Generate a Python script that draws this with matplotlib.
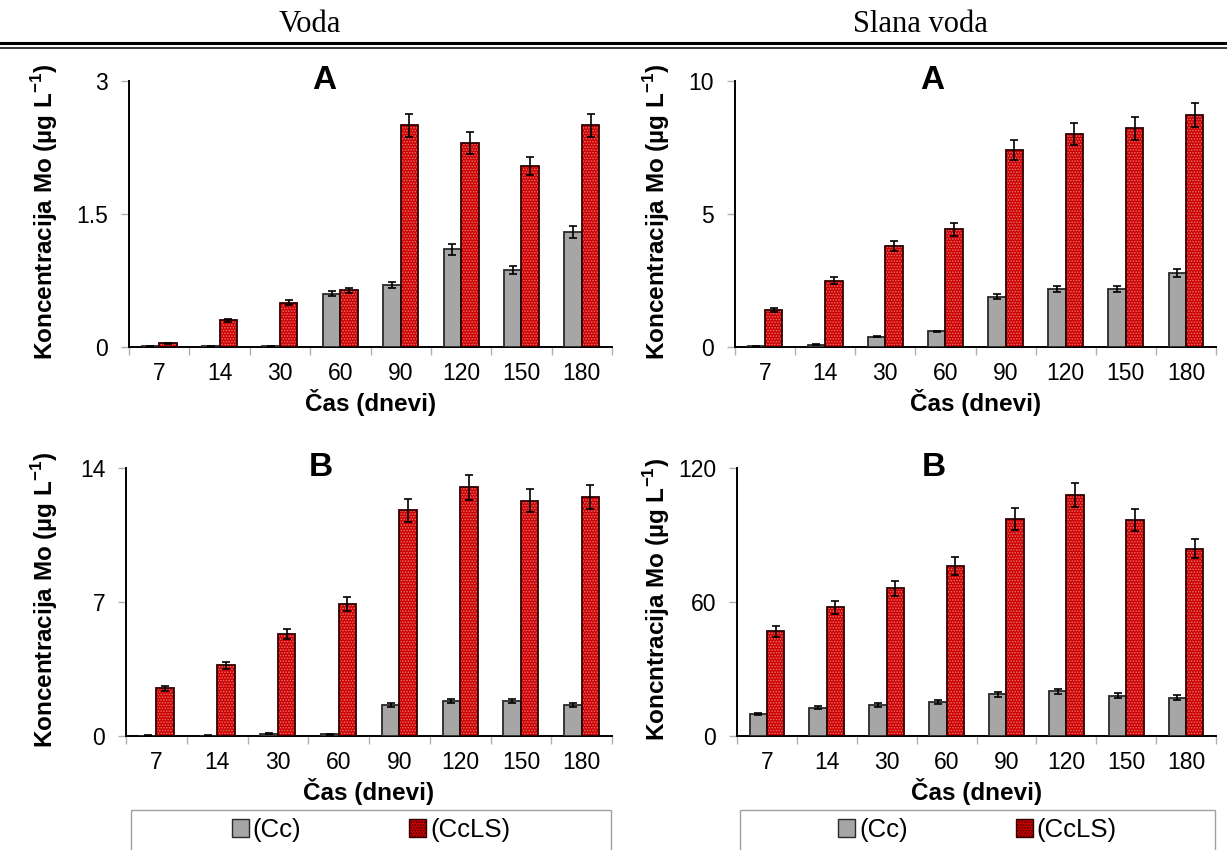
import matplotlib
matplotlib.use("Agg")
import matplotlib.pyplot as plt
from matplotlib.patches import Rectangle, Patch
from matplotlib.lines import Line2D
import numpy as np

# ---- data -------------------------------------------------------------
days = ["7", "14", "30", "60", "90", "120", "150", "180"]

# Voda, A
voda_a_cc = [0.01, 0.01, 0.01, 0.60, 0.70, 1.10, 0.87, 1.30]
voda_a_cc_err = [0.005, 0.005, 0.005, 0.03, 0.035, 0.06, 0.045, 0.07]
voda_a_ccls = [0.04, 0.30, 0.50, 0.64, 2.50, 2.30, 2.04, 2.50]
voda_a_ccls_err = [0.01, 0.017, 0.028, 0.03, 0.126, 0.12, 0.105, 0.126]

# Slana voda, A
slana_a_cc = [0.02, 0.09, 0.39, 0.59, 1.89, 2.19, 2.19, 2.79]
slana_a_cc_err = [0.01, 0.01, 0.02, 0.03, 0.10, 0.12, 0.12, 0.16]
slana_a_ccls = [1.39, 2.49, 3.80, 4.42, 7.41, 8.01, 8.22, 8.71]
slana_a_ccls_err = [0.07, 0.13, 0.20, 0.23, 0.38, 0.40, 0.42, 0.45]

# Voda, B
voda_b_cc = [0.02, 0.02, 0.12, 0.09, 1.60, 1.83, 1.83, 1.60]
voda_b_cc_err = [0.01, 0.01, 0.02, 0.02, 0.10, 0.12, 0.12, 0.10]
voda_b_ccls = [2.49, 3.69, 5.33, 6.88, 11.79, 13.00, 12.30, 12.49]
voda_b_ccls_err = [0.13, 0.20, 0.27, 0.36, 0.59, 0.65, 0.60, 0.64]

# Slana voda, B
slana_b_cc = [10.0, 12.7, 13.9, 15.3, 18.6, 20.1, 18.1, 17.2]
slana_b_cc_err = [0.45, 0.75, 0.8, 0.9, 1.05, 1.1, 1.0, 1.0]
slana_b_ccls = [46.8, 57.6, 66.1, 76.2, 97.1, 108.0, 96.7, 83.9]
slana_b_ccls_err = [2.5, 3.0, 3.4, 3.9, 4.9, 5.5, 4.8, 4.3]

yticks_voda_a = [0, 1.5, 3]
yticklabels_voda_a = ["0", "1.5", "3"]
yticks_slana_a = [0, 5, 10]
yticklabels_slana_a = ["0", "5", "10"]
yticks_voda_b = [0, 7, 14]
yticklabels_voda_b = ["0", "7", "14"]
yticks_slana_b = [0, 60, 120]
yticklabels_slana_b = ["0", "60", "120"]

series_names = ["(Cc)", "(CcLS)"]
column_titles = ["Voda", "Slana voda"]
panel_letters = ["A", "A", "B", "B"]
ylabels = ["Koncentracija Mo (µg L$^{\\mathbf{-1}}$)",
           "Koncentracija Mo (µg L$^{\\mathbf{-1}}$)",
           "Koncentracija Mo (µg L$^{\\mathbf{-1}}$)",
           "Koncntracija Mo (µg L$^{\\mathbf{-1}}$)"]
xlabel = "Čas (dnevi)"

# ---- style ------------------------------------------------------------
plt.rcParams["font.family"] = ["Liberation Sans", "DejaVu Sans"]
plt.rcParams["mathtext.fontset"] = "custom"
plt.rcParams["mathtext.rm"] = "Liberation Sans"
plt.rcParams["mathtext.bf"] = "Liberation Sans:bold"
plt.rcParams["hatch.linewidth"] = 0.8

GRAY = "#a6a6a6"
RED = "#cc0000"
DOTS = (1, 0.75, 0.75, 0.55)
TICK_GRAY = "#b0b0b0"
FS_TICK = 16.5
FS_LABEL = 17.5
FS_LEGEND = 18.5

W, H = 1227, 850
fig = plt.figure(figsize=(W / 100, H / 100), dpi=100)


def px_axes(left, top, right, bottom):
    return fig.add_axes([left / W, 1 - bottom / H, (right - left) / W, (bottom - top) / H])


def draw_bars(ax, x, vals, width, face, dotted):
    if dotted:
        ax.bar(x, vals, width, color=face, edgecolor=DOTS,
               hatch="......", linewidth=0, zorder=2)
        ax.bar(x, vals, width, fill=False, edgecolor="#300000",
               linewidth=1.3, zorder=3)
    else:
        ax.bar(x, vals, width, color=face, edgecolor="#2a2a2a",
               linewidth=1.3, zorder=3)


def panel(ax, cc, cc_err, ccls, ccls_err, yticks, yticklabels, letter, letter_x):
    n = len(days)
    centers = np.arange(n) + 0.5
    bw = 0.29
    draw_bars(ax, centers - bw / 2, cc, bw, GRAY, False)
    draw_bars(ax, centers + bw / 2, ccls, bw, RED, True)
    ax.errorbar(centers - bw / 2, cc, yerr=cc_err, fmt="none", ecolor="black",
                elinewidth=1.2, capsize=2.8, capthick=1.2, zorder=4)
    ax.errorbar(centers + bw / 2, ccls, yerr=ccls_err, fmt="none", ecolor="black",
                elinewidth=1.2, capsize=2.8, capthick=1.2, zorder=4)

    ax.set_xlim(0, n)
    ax.set_ylim(yticks[0], yticks[-1])
    ax.set_yticks(yticks)
    ax.set_yticklabels(yticklabels)
    ax.set_xticks(np.arange(n + 1))
    ax.set_xticklabels([])
    ax.set_xticks(centers, minor=True)
    ax.set_xticklabels(days, minor=True)
    ax.tick_params(axis="x", which="major", direction="out", length=6,
                   color=TICK_GRAY, width=1)
    ax.tick_params(axis="x", which="minor", length=0, pad=11, labelsize=FS_TICK)
    ax.tick_params(axis="y", direction="out", length=6, color=TICK_GRAY,
                   width=1, pad=9, labelsize=FS_TICK)
    for s in ("top", "right"):
        ax.spines[s].set_visible(False)
    for s in ("left", "bottom"):
        ax.spines[s].set_color("black")
        ax.spines[s].set_linewidth(1.4)
    ax.set_xlabel(xlabel, fontsize=FS_LABEL, fontweight="bold", labelpad=3)
    ax.text(letter_x, 1.0, letter, transform=ax.transAxes, ha="center",
            va="center", fontsize=24, fontweight="bold")


ax_tl = px_axes(129, 81, 612, 347)
ax_tr = px_axes(735, 81, 1216, 347)
ax_bl = px_axes(126, 468, 612, 736)
ax_br = px_axes(737, 468, 1216, 736)

panel(ax_tl, voda_a_cc, voda_a_cc_err, voda_a_ccls, voda_a_ccls_err,
      yticks_voda_a, yticklabels_voda_a, panel_letters[0], 0.405)
panel(ax_tr, slana_a_cc, slana_a_cc_err, slana_a_ccls, slana_a_ccls_err,
      yticks_slana_a, yticklabels_slana_a, panel_letters[1], 0.41)
panel(ax_bl, voda_b_cc, voda_b_cc_err, voda_b_ccls, voda_b_ccls_err,
      yticks_voda_b, yticklabels_voda_b, panel_letters[2], 0.40)
panel(ax_br, slana_b_cc, slana_b_cc_err, slana_b_ccls, slana_b_ccls_err,
      yticks_slana_b, yticklabels_slana_b, panel_letters[3], 0.41)

# rotated y labels
for (xp, yp), lab in zip([(45, 212), (657, 212), (45, 600), (657, 600)], ylabels):
    fig.text(xp / W, 1 - yp / H, lab, rotation=90, ha="center", va="center",
             fontsize=FS_LABEL, fontweight="bold")

# column headings and double rule
fig.text(310 / W, 1 - 25 / H, column_titles[0], ha="center", va="center",
         fontsize=22, family="Liberation Serif")
fig.text(920 / W, 1 - 25 / H, column_titles[1], ha="center", va="center",
         fontsize=22, family="Liberation Serif")
fig.add_artist(Line2D([0, 1], [1 - 43 / H, 1 - 43 / H], transform=fig.transFigure,
                      color="black", linewidth=2.2))
fig.add_artist(Line2D([0, 1], [1 - 47.5 / H, 1 - 47.5 / H], transform=fig.transFigure,
                      color="black", linewidth=1.1))

# legend boxes below the bottom panels
handles = [Patch(facecolor=GRAY, edgecolor="#2a2a2a", linewidth=1.0),
           Patch(facecolor=RED, edgecolor="#300000", linewidth=1.0,
                 hatch="......")]
for left, right in [(131, 611), (740, 1215)]:
    fig.add_artist(Rectangle((left / W, 1 - 860 / H), (right - left) / W, 50 / H,
                             transform=fig.transFigure, fill=False,
                             edgecolor="#a0a0a0", linewidth=1.0))
    fig.legend(handles, series_names, loc="center",
               bbox_to_anchor=((left + right) / 2 / W, 1 - 830 / H),
               ncol=2, frameon=False, fontsize=FS_LEGEND, handlelength=0.66,
               handleheight=0.66, handletextpad=0.15, columnspacing=4.2,
               borderpad=0)

fig.savefig("out.png", dpi=100)
